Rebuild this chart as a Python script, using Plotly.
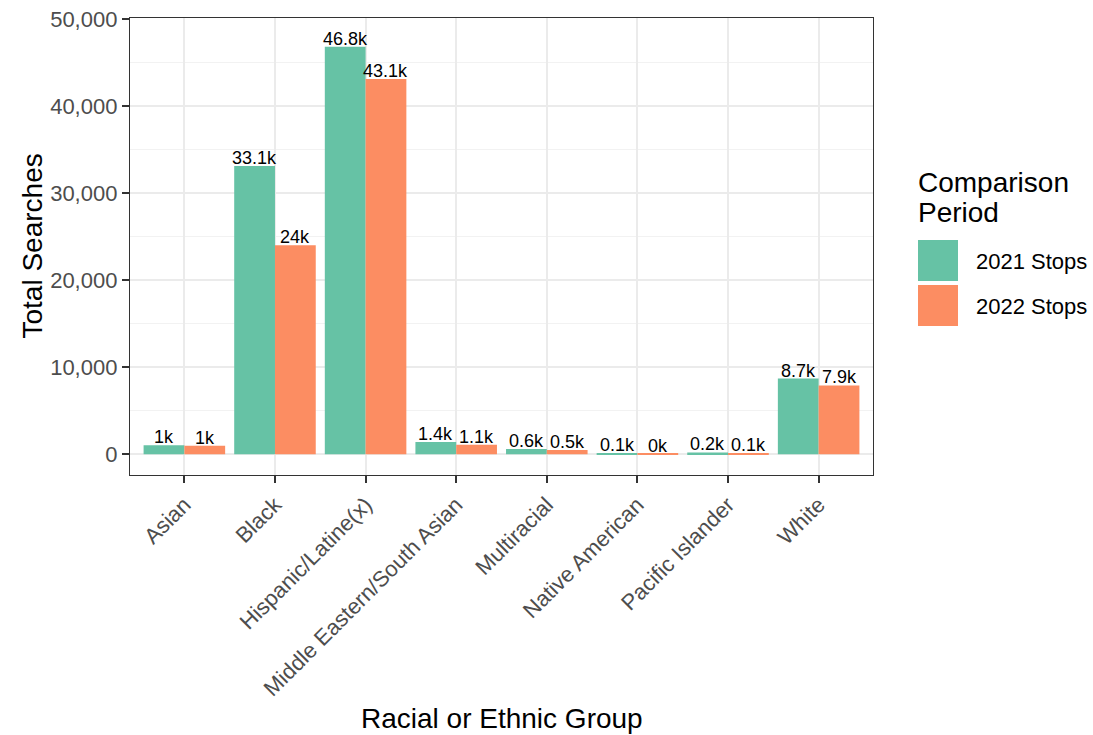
import plotly.graph_objects as go

groups = ["Asian", "Black", "Hispanic/Latine(x)", "Middle Eastern/South Asian",
          "Multiracial", "Native American", "Pacific Islander", "White"]
stops_2021 = [1020, 33100, 46800, 1400, 600, 100, 200, 8700]
stops_2022 = [980, 24000, 43100, 1100, 500, 30, 100, 7900]
series_names = ["2021 Stops", "2022 Stops"]
colors = ["#66C2A5", "#FC8D62"]
y_ticks = [0, 10000, 20000, 30000, 40000, 50000]


def klabel(v):
    return f"{round(v / 1000, 1):g}k"


FONT = "Arial, Liberation Sans, sans-serif"

# panel geometry in page px
L, R, T, B = 130, 873, 18, 475
W, H = R - L, B - T
FW, FH = 1093, 735


def px_x(p):
    return (p - L) / W


def px_y(p):
    return (B - p) / H


# bar half-offset in px: each bar = 0.45 category units, unit = W / 8.2
unit = W / (len(groups) + 0.2)
half = 0.225 * unit

fig = go.Figure()
annotations = []
for name, vals, col, sgn in zip(series_names, [stops_2021, stops_2022], colors, [-1, 1]):
    fig.add_trace(go.Bar(
        x=groups, y=vals, name=name, marker=dict(color=col, line=dict(width=0)),
        showlegend=False,
    ))
    for g, v in zip(groups, vals):
        annotations.append(dict(
            text=klabel(v), x=g, y=v, xref="x", yref="y", xshift=sgn * half, yshift=-4,
            showarrow=False, xanchor="center", yanchor="bottom",
            font=dict(family=FONT, size=18, color="black"),
        ))

shapes = []
annotations += [
    dict(text="Total Searches", x=px_x(32), y=0.5, xref="paper", yref="paper",
         textangle=-90, showarrow=False, font=dict(family=FONT, size=28, color="black"),
         xanchor="center", yanchor="middle"),
    dict(text="Racial or Ethnic Group", x=0.5, y=px_y(718), xref="paper", yref="paper",
         showarrow=False, font=dict(family=FONT, size=28, color="black"),
         xanchor="center", yanchor="middle"),
    dict(text="Comparison", x=px_x(916), y=px_y(182), xref="paper", yref="paper",
         showarrow=False, font=dict(family=FONT, size=28, color="black"),
         xanchor="left", yanchor="middle"),
    dict(text="Period", x=px_x(916), y=px_y(212), xref="paper", yref="paper",
         showarrow=False, font=dict(family=FONT, size=28, color="black"),
         xanchor="left", yanchor="middle"),
]
key_tops = [240, 285]
for name, col, top in zip(series_names, colors, key_tops):
    shapes.append(dict(type="rect", xref="paper", yref="paper",
                       x0=px_x(918), x1=px_x(958), y0=px_y(top), y1=px_y(top + 41),
                       fillcolor=col, line=dict(width=0)))
    annotations.append(dict(text=name, x=px_x(974), y=px_y(top + 21), xref="paper", yref="paper",
                            showarrow=False, font=dict(family=FONT, size=22, color="black"),
                            xanchor="left", yanchor="middle"))

fig.update_layout(
    width=FW, height=FH,
    margin=dict(l=L, r=FW - R, t=T, b=FH - B, autoexpand=False),
    paper_bgcolor="white", plot_bgcolor="white",
    barmode="group", bargap=0.1, bargroupgap=0,
    font=dict(family=FONT),
    shapes=shapes, annotations=annotations,
)
fig.update_xaxes(
    range=[-0.6, len(groups) - 0.4], tickangle=-45, automargin=False,
    tickfont=dict(family=FONT, size=22, color="#4D4D4D"),
    showgrid=True, gridcolor="#EBEBEB", gridwidth=1.5,
    showline=True, linecolor="#333333", linewidth=1.3, mirror=True,
    ticks="outside", ticklen=7, tickwidth=1.5, tickcolor="#333333",
    zeroline=False, ticklabeloverflow="allow",
)
fig.update_yaxes(
    range=[-2386, 50115], tickvals=y_ticks, tickformat=",", automargin=False,
    tickfont=dict(family=FONT, size=22, color="#4D4D4D"),
    showgrid=True, gridcolor="#EBEBEB", gridwidth=1.5,
    minor=dict(tick0=5000, dtick=10000, showgrid=True, gridcolor="#F2F2F2", gridwidth=0.8, ticks=""),
    showline=True, linecolor="#333333", linewidth=1.3, mirror=True,
    ticks="outside", ticklen=7, tickwidth=1.5, tickcolor="#333333",
    zeroline=False, ticklabeloverflow="allow",
)
fig.write_html("out.html", config={"displayModeBar": False},
               post_script="document.body.style.margin='0';document.body.style.overflow='hidden';")
